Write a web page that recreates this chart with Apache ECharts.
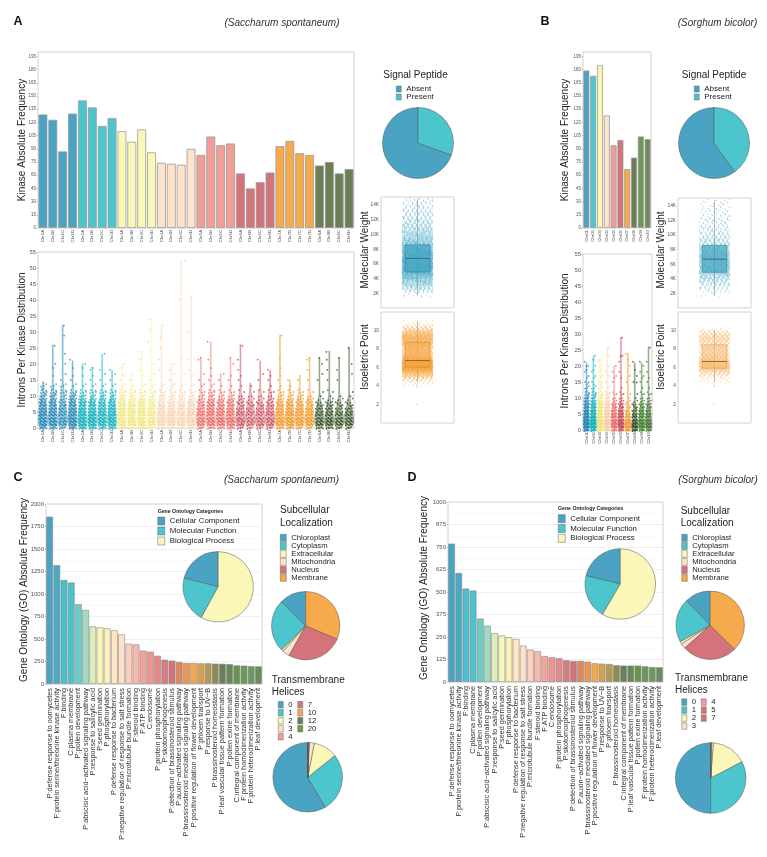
<!DOCTYPE html>
<html><head><meta charset="utf-8">
<script src="https://cdn.jsdelivr.net/npm/echarts@6/dist/echarts.min.js"></script>
<style>html,body{margin:0;padding:0;background:#fff}#c{width:767px;height:857px}</style>
</head><body><div id="c"></div>
<script>
const FONT = '"Liberation Sans", Arial, Helvetica, sans-serif';

// ---------- Panel A / B : kinases per chromosome ----------
const chrA = ['Chr1A','Chr1B','Chr1C','Chr1D','Chr2A','Chr2B','Chr2C','Chr2D','Chr3A','Chr3B','Chr3C','Chr3D','Chr4A','Chr4B','Chr4C','Chr4D','Chr5A','Chr5B','Chr5C','Chr5D','Chr6A','Chr6B','Chr6C','Chr6D','Chr7A','Chr7B','Chr7C','Chr7D','Chr8A','Chr8B','Chr8C','Chr8D'];
const kinaseA = [129,123,87,130,145,137,116,125,110,98,112,86,74,73,72,90,83,104,94,96,62,45,52,63,93,99,85,83,71,75,62,67];
const chrB = ['Chr01','Chr02','Chr03','Chr04','Chr05','Chr06','Chr07','Chr08','Chr09','Chr10'];
const kinaseB = [179,173,185,128,94,100,67,80,104,101];

// introns: counts of kinases with 0..14 introns, plus individual values above 14
const intronCountsA = [
 [7,15,16,14,13,12,11,10,8,7,5,4,3,2,2],
 [6,14,15,13,12,11,10,9,8,6,5,4,3,2,1],
 [4,9,10,9,8,8,7,6,5,4,3,3,2,2,1],
 [7,15,16,14,13,12,11,10,8,7,5,4,2,1,1],
 [9,18,19,17,15,14,12,10,9,7,5,3,2,1,1],
 [8,17,18,16,15,13,11,10,8,6,4,3,2,1,1],
 [6,13,14,13,12,11,10,9,7,6,4,3,2,1,1],
 [7,15,16,14,13,12,11,9,8,6,4,3,2,1,1],
 [5,12,13,12,11,10,10,8,7,6,4,3,2,1,1],
 [5,11,12,11,10,9,9,8,6,5,4,3,2,1,0],
 [5,12,13,12,11,11,10,9,7,6,4,3,2,1,1],
 [4,9,10,9,8,8,7,6,5,4,3,2,2,1,1],
 [3,8,9,8,7,7,6,5,4,3,3,2,1,1,1],
 [3,8,9,8,8,7,6,5,4,3,3,2,1,1,1],
 [3,8,9,8,7,7,6,5,4,3,3,2,1,1,1],
 [4,10,11,10,9,8,8,7,5,4,3,2,1,1,1],
 [4,9,10,9,9,8,7,6,5,4,3,2,1,1,1],
 [5,11,12,11,10,10,9,8,7,5,4,3,2,1,1],
 [5,11,12,11,10,9,9,7,6,5,3,2,1,1,0],
 [5,12,12,11,10,9,8,7,6,5,3,2,1,1,0],
 [3,7,7,7,6,6,5,4,4,3,2,1,1,1,0],
 [2,5,6,5,5,5,4,4,3,2,2,1,0,1,0],
 [2,7,6,6,5,5,5,4,3,2,2,1,1,0,0],
 [3,7,7,7,6,6,5,5,4,3,2,2,1,1,0],
 [5,11,12,10,9,9,8,7,6,4,3,2,1,1,0],
 [5,12,13,12,11,10,9,8,6,5,3,2,1,1,0],
 [4,10,11,10,9,9,8,7,5,4,3,2,1,0,0],
 [4,10,11,10,9,8,8,6,5,4,2,1,1,0,0],
 [5,10,10,9,8,7,6,5,3,2,1,1,0,0,0],
 [5,10,11,9,8,7,6,5,4,2,1,1,1,0,0],
 [4,9,9,8,7,6,5,4,3,2,1,0,0,0,0],
 [4,9,10,9,8,7,6,4,3,2,1,1,0,0,0]
];
const intronHighA = [
 [],[16,19,20,26],[15,17,20,23,29,32],[15,16,19,21],[16,19,20],[15,16,18,19],[15,17,18,23],[15,17,18],
 [15,16,17,19,20],[15,16],[16,18,21,22,24],[15,17,20,24,27,31,34],
 [16,18,21,25,28,32],[15,17,18,20],[17,22,40,52],[16,17,18,21,30,41],
 [15,17,21,22],[15,16,19,21,27],[15,17],[15,16,20,22],
 [15,16,18,21,26],[],[15,17,21],[15,16,18],
 [15,16,19,22,29],[15],[15,16],[15,18,21,22],
 [15,17,20,22],[15,18,21,24],[15,18,22],[17,20,25]
];
const intronCountsB = [
 [12,25,24,20,17,15,13,11,9,7,6,4,3,2,2],
 [11,24,23,19,17,15,13,11,9,7,5,4,3,2,2],
 [12,26,25,21,18,16,14,12,9,7,5,4,3,2,2],
 [8,17,17,15,13,11,10,8,7,5,4,3,2,1,1],
 [6,13,13,11,10,9,7,6,5,3,2,2,1,0,0],
 [7,14,14,12,10,9,8,6,5,3,2,2,1,1,0],
 [7,12,10,8,6,5,4,3,2,2,1,1,0,0,0],
 [10,14,11,9,7,6,5,4,3,2,1,1,0,0,0],
 [8,15,14,12,10,9,8,6,5,3,2,2,1,1,0],
 [8,15,14,12,10,9,7,6,5,3,2,2,1,1,0]
];
const intronHighB = [
 [15,15,16,17,18,19,20,20,21],[15,16,17,18,19,20,22,23],[15,15,16,17,18,19,20,21,22],
 [15,17,18,20,23,26],[15,16,17,18,20],[16,18,21,23,23,29],[15,17,20,22,24],
 [15,15,17,19,21],[15,16,17,18,20,21],[15,16,18,21,26]
];

// molecular weight: counts per 500 bin starting at 1500
const mwBinStart = 1500, mwBinStep = 500;
const mwCountsA = [10,30,60,90,120,170,230,250,260,250,240,220,190,160,130,110,90,75,62,52,45,38,32,28,24,20,15];
const mwCountsB = [4,12,24,36,48,68,92,100,104,100,96,88,76,64,52,44,36,30,25,21,18,15,13,11,10,8,6];
const mwBoxA = [1900,4900,6750,8600,14800];
const mwBoxB = [1700,4900,6700,8600,14800];
// isoelectric point: counts per 0.25 bin starting at 4.0
const piBinStart = 4.0, piBinStep = 0.25;
const piCountsA = [8,12,25,45,80,110,190,255,250,210,265,150,100,75,65,60,70,90,115,140,150,140,110,80,50,30,15,7,3];
const piCountsB = [3,5,10,18,32,45,75,100,100,95,100,60,42,32,28,26,30,38,50,62,68,60,45,30,10];
const piBoxA = [4.4,6.03,6.76,8.73,11.0];
const piBoxB = [4.4,5.92,6.65,8.45,10.0];

// signal peptide
const signalNames = ['Absent','Present'];
const signalA = [69.5,30.5];
const signalB = [60,40];

// ---------- Panel C / D : gene ontology ----------
const goLabelsC = ['P:defense response to oomycetes','F:protein serine/threonine kinase activity','F:binding','C:plasma membrane','P:pollen development','P:abscisic acid\u2212activated signaling pathway','P:response to salicylic acid','P:seed germination','P:phosphorylation','P:defense response to bacterium','P:negative regulation of response to salt stress','P:microtubule bundle formation','F:steroid binding','F:ATP binding','C:endosome','P:protein phosphorylation','P:skotomorphogenesis','P:detection of brassinosteroid stimulus','P:auxin\u2212activated signaling pathway','P:brassinosteroid mediated signaling pathway','P:positive regulation of flower development','P:phloem transport','P:response to UV\u2212B','P:brassinosteroid homeostasis','P:leaf vascular tissue pattern formation','P:pollen exine formation','C:integral component of membrane','F:protein homodimerization activity','F:protein heterodimerization activity','P:leaf development'];
const goValuesC = [1858,1320,1156,1127,886,823,640,629,618,596,551,448,440,370,359,314,270,259,244,233,233,230,230,226,224,220,207,204,198,196];
const goLabelsD = ['P:defense response to oomycetes','F:protein serine/threonine kinase activity','F:binding','C:plasma membrane','P:pollen development','P:abscisic acid\u2212activated signaling pathway','P:response to salicylic acid','P:seed germination','P:phosphorylation','P:defense response to bacterium','P:negative regulation of response to salt stress','P:microtubule bundle formation','F:steroid binding','F:ATP binding','C:endosome','P:protein phosphorylation','P:skotomorphogenesis','P:detection of brassinosteroid stimulus','P:auxin\u2212activated signaling pathway','P:brassinosteroid mediated signaling pathway','P:positive regulation of flower development','P:response to UV\u2212B','P:phloem transport','P:brassinosteroid homeostasis','C:integral component of membrane','P:leaf vascular tissue pattern formation','P:pollen exine formation','F:protein homodimerization activity','F:protein heterodimerization activity','P:leaf development'];
const goValuesD = [769,606,519,508,352,313,272,258,249,239,202,180,171,144,137,132,121,117,117,113,104,102,100,93,91,91,91,87,83,82];
const goColors = ['#4aa3c2','#4aa9c5','#4bbdcb','#4bc3cc','#6ccdc6','#a0dcc1','#dcefba','#f8f6b6','#fdf1b9','#fde8c1','#fde0c8','#fbcebe','#f8b9ad','#f4a49b','#ef9690','#e5898b','#d97c80','#d4737a','#e0855f','#eb9653','#f4a74b','#d9a049','#b49a50','#8b8c56','#6a7f55','#688857','#6a9352','#6b9a55','#6f9660','#6c8a60'];

const goCatNames = ['Cellular Component','Molecular Function','Biological Process'];
const goCatColors = ['#4aa3c2','#4cc6cc','#fbf7b9'];
const goPieC = [21,21,58];
const goPieD = [21.2,20.4,58.4];

const subNames = ['Chloroplast','Cytoplasm','Extracellular','Mitochondria','Nucleus','Membrane'];
const subColors = ['#4aa3c2','#4cc6cc','#fbf7b9','#fde3c9','#d4747a','#f6aa4b'];
const subC = [12.7,24.9,0.9,3.4,26.7,31.4];
const subD = [12.3,20.7,1.2,2.4,26.1,37.3];

const tmNamesC = ['0','1','2','3','4','7','10','12','20'];
const tmColorsC = ['#4aa3c2','#4cc6cc','#fbf7b9','#fde3c9','#f29d95','#d4747a','#f6aa4b','#6a7f55','#6b9a4f'];
const tmC = [58.5,27.3,11.2,2.3,0.25,0.3,0.1,0.05,0.05];
const tmNamesD = ['0','1','2','3','4','5','7'];
const tmColorsD = ['#4aa3c2','#4cc6cc','#fbf7b9','#fde3c9','#f29d95','#d4747a','#f6aa4b'];
const tmD = [50,32.7,16.1,1.0,0.1,0.05,0.05];

// chromosome colours
const groupColors = ['#4aa3c2','#4cc6cc','#fbf7b9','#fde3c9','#f29d95','#d4747a','#f6aa4b','#6a7f55','#6b9a4f','#728a62'];
const dotColors = ['#2f8ab5','#1fb3c2','#efe57e','#f3cfaa','#ea6a66','#c44a57','#f3992a','#33522a','#3f8a30','#4e7a3e'];
const groupOfA = chrA.map(c => parseInt(c.charAt(3), 10) - 1);
const groupOfB = chrB.map((c, i) => i);

// ---------- helpers ----------
function frac(x) { return x - Math.floor(x); }
function rgba(hex, a) {
  const n = parseInt(hex.slice(1), 16);
  return 'rgba(' + ((n >> 16) & 255) + ',' + ((n >> 8) & 255) + ',' + (n & 255) + ',' + a + ')';
}
function intronSeries(ax, counts, highs, groups) {
  return {
    type: 'custom', xAxisIndex: ax, yAxisIndex: ax, silent: true,
    data: counts.map((c, i) => [i, 0]), encode: { x: 0, y: 1 },
    renderItem: function (params, api) {
      const ci = params.dataIndex;
      const hist = counts[ci].slice();
      highs[ci].forEach(v => { while (hist.length <= v) hist.push(0); hist[v] += 1; });
      const band = api.size([1, 0])[0];
      const unit = api.size([0, 1])[1];
      const base = api.coord([ci, 0]);
      const cx = base[0], y0 = base[1];
      const g = groups[ci];
      const half = band * 0.47;
      const top = hist.length - 1;
      const dens = [];
      let maxD = 0;
      for (let t = 0; t <= top + 1e-9; t += 0.25) {
        let d = 0;
        for (let k = 0; k < hist.length; k++) {
          if (hist[k]) { const z = (t - k) / 1.1; d += hist[k] * Math.exp(-0.5 * z * z); }
        }
        dens.push([t, d]); if (d > maxD) maxD = d;
      }
      const right = [], left = [];
      dens.forEach(p => {
        const w = Math.max(0.4, half * p[1] / maxD);
        const y = y0 - p[0] * unit;
        right.push([cx + w, y]); left.unshift([cx - w, y]);
      });
      const children = [{ type: 'polygon', shape: { points: right.concat(left) },
        style: { fill: rgba(groupColors[g], 0.45), stroke: rgba(groupColors[g], 0.9), lineWidth: 0.6 } }];
      const jw = band * 0.38;
      for (let k = 0; k < hist.length; k++) {
        const n = hist[k]; if (!n) continue;
        for (let i = 0; i < n; i++) {
          const fx = frac(0.5 + i * 0.618034 + k * 0.3172);
          const fy = frac(0.3 + i * 0.754878 + k * 0.4142);
          children.push({ type: 'circle', shape: { cx: cx + (2 * fx - 1) * jw, cy: y0 - (k + (fy - 0.5) * 0.7) * unit, r: 0.9 },
            style: { fill: dotColors[g], opacity: 0.8 } });
        }
      }
      return { type: 'group', children: children };
    }
  };
}
function boxSeries(ax, binStart, binStep, counts, stats, dotColor, boxFill, boxStroke, medColor) {
  return {
    type: 'custom', xAxisIndex: ax, yAxisIndex: ax, silent: true,
    data: [[0, stats[2]]], encode: { x: 0, y: 1 },
    renderItem: function (params, api) {
      const ch = [];
      const lo = api.coord([0, stats[0]]), hi = api.coord([0, stats[4]]);
      ch.push({ type: 'line', shape: { x1: lo[0], y1: lo[1], x2: hi[0], y2: hi[1] }, style: { stroke: 'rgba(110,110,110,0.6)', lineWidth: 0.8 } });
      const q1 = api.coord([-0.34, stats[1]]), q3 = api.coord([0.34, stats[3]]), md = api.coord([0, stats[2]]);
      const rect = { x: q1[0], y: q3[1], width: q3[0] - q1[0], height: q1[1] - q3[1] };
      ch.push({ type: 'rect', shape: rect, style: { fill: boxFill } });
      counts.forEach((n, j) => {
        for (let i = 0; i < n; i++) {
          const fx = frac(0.5 + i * 0.5698403 + j * 0.2113);
          const fy = frac(0.5 + i * 0.7548777 + j * 0.3571);
          const p = api.coord([(2 * fx - 1) * 0.42, binStart + (j + fy) * binStep]);
          ch.push({ type: 'circle', shape: { cx: p[0], cy: p[1], r: 0.6 }, style: { fill: dotColor, opacity: 0.55 } });
        }
      });
      ch.push({ type: 'rect', shape: rect, style: { fill: 'none', stroke: boxStroke, lineWidth: 0.6 } });
      ch.push({ type: 'line', shape: { x1: q1[0], y1: md[1], x2: q3[0], y2: md[1] }, style: { stroke: medColor, lineWidth: 1 } });
      return { type: 'group', children: ch };
    }
  };
}
function pie(names, values, colors, cx, cy, r) {
  return { type: 'pie', center: [cx, cy], radius: r, startAngle: 90, clockwise: false, silent: true,
    label: { show: false }, labelLine: { show: false }, emphasis: { disabled: true },
    itemStyle: { borderColor: '#555', borderWidth: 0.5 },
    data: names.map((n, i) => ({ name: n, value: values[i], itemStyle: { color: colors[i] } })) };
}
function legend(names, left, top, fs, lh, iw, ih) {
  return { data: names, orient: 'vertical', left: left, top: top, padding: 0, itemGap: 0,
    itemWidth: iw, itemHeight: ih, icon: 'rect', selectedMode: false,
    itemStyle: { borderColor: '#666', borderWidth: 0.5 },
    textStyle: { fontSize: fs, lineHeight: lh, color: '#222', fontFamily: FONT } };
}
function catAxis(gi, data, fs, margin, color) {
  return { gridIndex: gi, type: 'category', data: data, axisLine: { show: false }, axisTick: { show: false },
    axisLabel: { rotate: 90, interval: 0, fontSize: fs, margin: margin, color: color, fontFamily: FONT } };
}
function valAxis(gi, min, max, interval, fs, labelExtra, splitExtra) {
  const lab = Object.assign({ fontSize: fs, margin: 2, color: '#555', fontFamily: FONT, formatter: v => String(v) }, labelExtra || {});
  const ax = { gridIndex: gi, type: 'value', min: min, max: max, interval: interval,
    axisLine: { show: false }, axisTick: { show: true, length: 1.5, lineStyle: { color: '#999', width: 0.5 } },
    axisLabel: lab, splitLine: { show: false } };
  return Object.assign(ax, splitExtra || {});
}
function hiddenX(gi) { return { gridIndex: gi, type: 'value', min: -1, max: 1, show: false }; }
function txt(x, y, text, o) {
  o = o || {};
  const al = o.align || 'center';
  return { type: 'text', x: x, y: y, rotation: o.rot || 0, silent: true,
    style: { text: text, fill: o.color || '#222', fontSize: o.size || 10, fontFamily: FONT,
      fontWeight: o.weight || 'normal', fontStyle: o.style || 'normal',
      align: al, verticalAlign: 'middle', textAlign: al, textVerticalAlign: 'middle' } };
}
const R = Math.PI / 2;
const gridStyle = { show: true, borderColor: '#d2d2d2', borderWidth: 1 };
const goSplit = { splitLine: { show: true, lineStyle: { color: '#e6e6e6', width: 0.6 } },
  minorTick: { show: false, splitNumber: 2 }, minorSplitLine: { show: true, lineStyle: { color: '#f3f3f3', width: 0.5 } } };

const option = {
  animation: false,
  textStyle: { fontFamily: FONT },
  grid: [
    Object.assign({ left: 38, top: 52, width: 316, height: 176 }, gridStyle),
    Object.assign({ left: 38, top: 252, width: 316, height: 176 }, gridStyle),
    Object.assign({ left: 381, top: 197, width: 73, height: 111 }, gridStyle),
    Object.assign({ left: 381, top: 312, width: 73, height: 111 }, gridStyle),
    Object.assign({ left: 583, top: 52, width: 68, height: 176 }, gridStyle),
    Object.assign({ left: 583, top: 254, width: 69, height: 176 }, gridStyle),
    Object.assign({ left: 678, top: 198, width: 73, height: 110 }, gridStyle),
    Object.assign({ left: 678, top: 312, width: 73, height: 111 }, gridStyle),
    Object.assign({ left: 46, top: 504, width: 216, height: 180 }, gridStyle),
    Object.assign({ left: 448, top: 502, width: 215, height: 180 }, gridStyle)
  ],
  xAxis: [
    catAxis(0, chrA, 4.3, 2, '#555'),
    catAxis(1, chrA, 4.3, 2, '#555'),
    hiddenX(2), hiddenX(3),
    catAxis(4, chrB, 4.3, 2, '#555'),
    catAxis(5, chrB, 4.3, 2, '#555'),
    hiddenX(6), hiddenX(7),
    catAxis(8, goLabelsC, 7.3, 4, '#333'),
    catAxis(9, goLabelsD, 7.3, 4, '#333')
  ],
  yAxis: [
    valAxis(0, 0, 200, 15, 4.5, { showMaxLabel: false }),
    valAxis(1, 0, 55, 5, 5.8),
    valAxis(2, 0, 15100, 2000, 4.8, { showMinLabel: false, showMaxLabel: false, formatter: v => (v / 1000) + 'K' }),
    valAxis(3, 0, 12, 2, 4.8, { showMinLabel: false, showMaxLabel: false }),
    valAxis(4, 0, 200, 15, 4.5, { showMaxLabel: false }),
    valAxis(5, 0, 55, 5, 5.8),
    valAxis(6, 0, 15100, 2000, 4.8, { showMinLabel: false, showMaxLabel: false, formatter: v => (v / 1000) + 'K' }),
    valAxis(7, 0, 12, 2, 4.8, { showMinLabel: false, showMaxLabel: false }),
    valAxis(8, 0, 2000, 250, 6, {}, goSplit),
    valAxis(9, 0, 1000, 125, 6, {}, goSplit)
  ],
  legend: [
    legend(signalNames, 396, 85, 8, 6.7, 5, 6),
    legend(signalNames, 694, 85, 8, 6.7, 5, 6),
    legend(goCatNames, 157.5, 516, 7.9, 10, 7, 8),
    legend(goCatNames, 558, 513.8, 7.9, 9.8, 7, 8),
    legend(subNames, 280, 533.8, 7.7, 7.86, 6, 7),
    legend(subNames, 681.5, 533.8, 7.7, 7.86, 5.5, 7),
    legend(['0','1','2','3','4'], 278, 700.7, 7.7, 7.25, 5, 6.5),
    legend(['7','10','12','20'], 297.5, 700.7, 7.7, 7.25, 5, 6.5),
    legend(['0','1','2','3'], 681.5, 698.1, 7.7, 7.1, 5, 6.5),
    legend(['4','5','7'], 701, 698.1, 7.7, 7.1, 5, 6.5)
  ],
  graphic: { elements: [
    txt(18, 22, 'A', { weight: 'bold', size: 12.5, color: '#111' }),
    txt(282, 23.3, '(Saccharum spontaneum)', { style: 'italic', size: 10, color: '#333' }),
    txt(545, 22, 'B', { weight: 'bold', size: 12.5, color: '#111' }),
    txt(717.5, 23.3, '(Sorghum bicolor)', { style: 'italic', size: 10, color: '#333' }),
    txt(18, 478, 'C', { weight: 'bold', size: 12.5, color: '#111' }),
    txt(281.5, 480, '(Saccharum spontaneum)', { style: 'italic', size: 10, color: '#333' }),
    txt(412, 478, 'D', { weight: 'bold', size: 12.5, color: '#111' }),
    txt(718, 480, '(Sorghum bicolor)', { style: 'italic', size: 10, color: '#333' }),
    txt(22, 140, 'Kinase Absolute Frequency', { rot: R }),
    txt(565, 140, 'Kinase Absolute Frequency', { rot: R }),
    txt(22, 340, 'Introns Per Kinase Distribution', { rot: R }),
    txt(565, 341, 'Introns Per Kinase Distribution', { rot: R }),
    txt(365, 250, 'Molecular Weight', { rot: R }),
    txt(661.7, 250, 'Molecular Weight', { rot: R }),
    txt(365, 357, 'Isoeletric Point', { rot: R }),
    txt(661.7, 357, 'Isoeletric Point', { rot: R }),
    txt(24, 590, 'Gene Ontology (GO) Absolute Frequency', { rot: R, size: 10 }),
    txt(424, 588, 'Gene Ontology (GO) Absolute Frequency', { rot: R, size: 10 }),
    txt(415.5, 75, 'Signal Peptide', { size: 10 }),
    txt(714, 75, 'Signal Peptide', { size: 10 }),
    txt(280, 510.7, 'Subcellular', { align: 'left' }),
    txt(280, 523, 'Localization', { align: 'left' }),
    txt(680.7, 511, 'Subcellular', { align: 'left' }),
    txt(680.7, 523.7, 'Localization', { align: 'left' }),
    txt(271.7, 680, 'Transmembrane', { align: 'left' }),
    txt(271.7, 692.3, 'Helices', { align: 'left' }),
    txt(675, 678.3, 'Transmembrane', { align: 'left' }),
    txt(675, 690, 'Helices', { align: 'left' }),
    txt(157.7, 512, 'Gene Ontology Categories', { align: 'left', weight: 'bold', size: 5.2 }),
    txt(558, 509, 'Gene Ontology Categories', { align: 'left', weight: 'bold', size: 5.2 })
  ] },
  series: [
    { type: 'bar', xAxisIndex: 0, yAxisIndex: 0, barCategoryGap: '10%', silent: true,
      itemStyle: { borderColor: '#9a9a9a', borderWidth: 0.8 },
      data: kinaseA.map((v, i) => ({ value: v, itemStyle: { color: groupColors[groupOfA[i]] } })) },
    intronSeries(1, intronCountsA, intronHighA, groupOfA),
    boxSeries(2, mwBinStart, mwBinStep, mwCountsA, mwBoxA, '#3ea5c4', 'rgba(40,150,180,0.6)', 'rgba(40,110,140,0.8)', '#3d6f80'),
    boxSeries(3, piBinStart, piBinStep, piCountsA, piBoxA, '#f6a23a', 'rgba(246,165,70,0.6)', 'rgba(200,125,40,0.8)', '#9c6a30'),
    { type: 'bar', xAxisIndex: 4, yAxisIndex: 4, barCategoryGap: '12%', silent: true,
      itemStyle: { borderColor: '#9a9a9a', borderWidth: 0.8 },
      data: kinaseB.map((v, i) => ({ value: v, itemStyle: { color: groupColors[groupOfB[i]] } })) },
    intronSeries(5, intronCountsB, intronHighB, groupOfB),
    boxSeries(6, mwBinStart, mwBinStep, mwCountsB, mwBoxB, '#3ea5c4', 'rgba(40,150,180,0.6)', 'rgba(40,110,140,0.8)', '#3d6f80'),
    boxSeries(7, piBinStart, piBinStep, piCountsB, piBoxB, '#f8b360', 'rgba(248,190,120,0.55)', 'rgba(210,140,60,0.8)', '#9c6a30'),
    { type: 'bar', xAxisIndex: 8, yAxisIndex: 8, barCategoryGap: '6%', silent: true,
      itemStyle: { borderColor: '#8a8a8a', borderWidth: 0.6 },
      data: goValuesC.map((v, i) => ({ value: v, itemStyle: { color: goColors[i] } })) },
    { type: 'bar', xAxisIndex: 9, yAxisIndex: 9, barCategoryGap: '6%', silent: true,
      itemStyle: { borderColor: '#8a8a8a', borderWidth: 0.6 },
      data: goValuesD.map((v, i) => ({ value: v, itemStyle: { color: goColors[i] } })) },
    pie(signalNames, signalA, ['#4aa3c2', '#4cc6cc'], 418, 143, 35.5),
    pie(signalNames, signalB, ['#4aa3c2', '#4cc6cc'], 714, 143, 35.5),
    pie(goCatNames, goPieC, goCatColors, 218.2, 586.8, 35.2),
    pie(goCatNames, goPieD, goCatColors, 620.3, 584, 35.3),
    pie(subNames, subC, subColors, 305.7, 625.7, 34.2),
    pie(subNames, subD, subColors, 710.2, 625.3, 34.2),
    pie(tmNamesC, tmC, tmColorsC, 307.7, 777.3, 34.8),
    pie(tmNamesD, tmD, tmColorsD, 710.7, 778, 35.3)
  ]
};
const chart = echarts.init(document.getElementById('c'), null, { renderer: 'canvas' });
chart.setOption(option);
</script></body></html>
